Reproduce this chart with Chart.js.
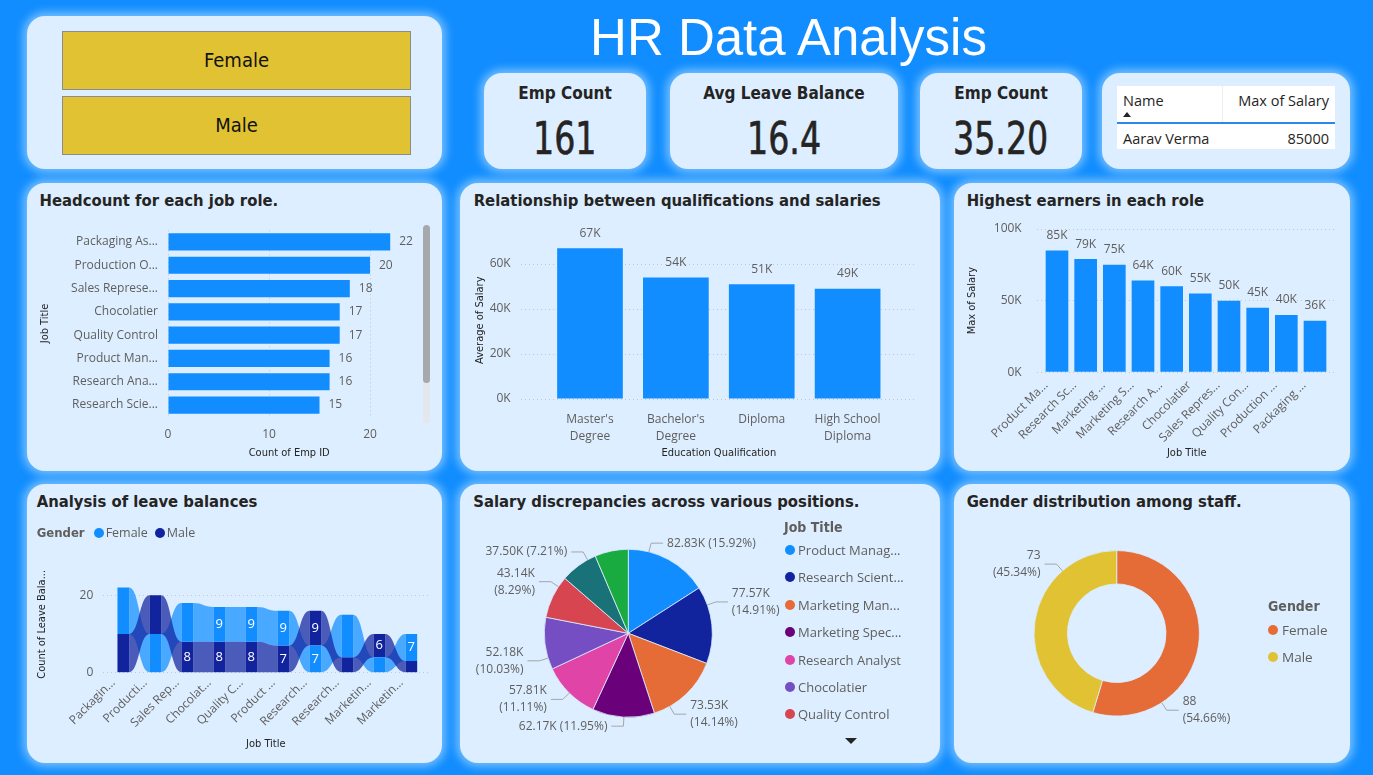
<!DOCTYPE html>
<html>
<head>
<meta charset="utf-8">
<title>HR Data Analysis</title>
<script src="https://cdn.jsdelivr.net/npm/chart.js@4.4.1/dist/chart.umd.min.js"></script>
<style>
  html, body { margin:0; padding:0; }
  body { width:1373px; height:775px; background:#118DFF; position:relative; overflow:hidden;
         font-family:'Open Sans','Noto Sans',sans-serif; color:#252423; }
  .card { position:absolute; background:#DCEEFF; border-radius:18px; box-shadow:0 0 9px 4px rgba(125,195,255,0.9); }
  .din { font-family:'DejaVu Sans Condensed','DejaVu Sans',sans-serif; font-stretch:condensed; }
  .ttl { position:absolute; font-weight:bold; font-size:16.5px; line-height:16.5px; color:#252423; white-space:nowrap; }
  canvas { position:absolute; }
  .kpiLabel { position:absolute; left:0; right:0; text-align:center; font-weight:bold; font-size:17px; line-height:17px; color:#252423; }
  .kpiValue { position:absolute; left:0; right:0; text-align:center; font-size:44px; line-height:44px; color:#252423; }
  .kpiValue span { display:inline-block; transform:scaleX(0.84); -webkit-text-stroke:0.6px #252423; }
  .slicerBtn { position:absolute; box-sizing:border-box; background:#E0C232; border:1px solid #8C8C8C;
               text-align:center; font-size:20px; line-height:57px; color:#111; }
  .lgRow { position:absolute; height:20px; white-space:nowrap; font-size:13px; color:#605E5C; display:flex; align-items:center; }
  .lgTitle { font-weight:bold; font-size:14px; color:#605E5C; }
  .dot { display:inline-block; width:10px; height:10px; border-radius:50%; }
  .tbl { position:absolute; font-size:14.5px; line-height:18px; color:#252423; white-space:nowrap; }
</style>
</head>
<body>

<!-- cards -->
<div class="card" style="left:27px;top:16px;width:415px;height:153px;"></div>
<div class="card" id="kpi1" style="left:484px;top:73px;width:162px;height:96px;"></div>
<div class="card" id="kpi2" style="left:670px;top:73px;width:228px;height:96px;"></div>
<div class="card" id="kpi3" style="left:920px;top:73px;width:162px;height:96px;"></div>
<div class="card" style="left:1102px;top:73px;width:248px;height:96px;"></div>
<div class="card" style="left:27px;top:183px;width:415px;height:288px;"></div>
<div class="card" style="left:460px;top:183px;width:480px;height:288px;"></div>
<div class="card" style="left:954px;top:183px;width:396px;height:288px;"></div>
<div class="card" style="left:27px;top:484px;width:415px;height:279px;"></div>
<div class="card" style="left:460px;top:484px;width:480px;height:279px;"></div>
<div class="card" style="left:954px;top:484px;width:396px;height:279px;"></div>

<!-- main title -->
<div style="position:absolute;left:388.5px;top:12px;width:800px;text-align:center;font-family:'Liberation Sans',Arial,sans-serif;font-size:51px;line-height:51px;color:#fff;">HR Data Analysis</div>

<!-- slicer -->
<div id="slicer"></div>

<!-- table -->
<div style="position:absolute;left:1117px;top:86px;width:218px;height:63px;background:#fff;"></div>
<div style="position:absolute;left:1222px;top:86px;width:1px;height:37px;background:#EDEDED;"></div>
<div class="tbl" style="left:1123px;top:92px;">Name</div>
<div class="tbl" style="right:44px;top:92px;">Max of Salary</div>
<div style="position:absolute;left:1123px;top:112px;width:0;height:0;border-left:4px solid transparent;border-right:4px solid transparent;border-bottom:5px solid #252423;"></div>
<div style="position:absolute;left:1117px;top:122px;width:218px;height:2px;background:#2B88E8;"></div>
<div class="tbl" id="tName" style="left:1123px;top:130px;"></div>
<div class="tbl" id="tSal" style="right:44px;top:130px;"></div>

<!-- chart titles -->
<div class="ttl din" style="left:39.5px;top:193.3px;">Headcount for each job role.</div>
<div class="ttl din" style="left:473.7px;top:193.3px;">Relationship between qualifications and salaries</div>
<div class="ttl din" style="left:966.7px;top:193.3px;">Highest earners in each role</div>
<div class="ttl din" style="left:36.7px;top:493.8px;">Analysis of leave balances</div>
<div class="ttl din" style="left:473.3px;top:493.8px;">Salary discrepancies across various positions.</div>
<div class="ttl din" style="left:966.7px;top:493.8px;">Gender distribution among staff.</div>

<!-- canvases -->
<canvas id="cHead" width="415" height="288" style="left:27px;top:183px;"></canvas>
<canvas id="cQual" width="480" height="288" style="left:460px;top:183px;"></canvas>
<canvas id="cEarn" width="396" height="288" style="left:954px;top:183px;"></canvas>
<canvas id="cLeave" width="415" height="279" style="left:27px;top:484px;"></canvas>
<canvas id="cPie" width="480" height="279" style="left:460px;top:484px;"></canvas>
<canvas id="cDonut" width="396" height="279" style="left:954px;top:484px;"></canvas>

<!-- headcount scrollbar -->
<div style="position:absolute;left:423px;top:225px;width:7px;height:198px;border-radius:4px;background:#E4E7EB;"></div>
<div style="position:absolute;left:423px;top:225px;width:7px;height:158px;border-radius:4px;background:#A6A8AB;"></div>

<!-- legends -->
<div id="leaveLegend"></div>
<div id="pieLegend"></div>
<div id="donutLegend"></div>
<div style="position:absolute;left:845px;top:738px;width:0;height:0;border-left:6px solid transparent;border-right:6px solid transparent;border-top:6px solid #252423;"></div>

<script>
// ---------------- data ----------------
const headcountRoles = ['Packaging As...', 'Production O...', 'Sales Represe...', 'Chocolatier', 'Quality Control', 'Product Man...', 'Research Ana...', 'Research Scie...'];
const headcountValues = [22, 20, 18, 17, 17, 16, 16, 15];
const headcountTicks = [0, 10, 20];

const qualificationLabels = [["Master's", "Degree"], ["Bachelor's", "Degree"], ["Diploma"], ["High School", "Diploma"]];
const qualificationAvgSalary = [67000, 54000, 51000, 49000];
const qualificationTicks = [0, 20000, 40000, 60000];

const earnerRoles = ['Product Ma...', 'Research Sc...', 'Marketing ...', 'Marketing S...', 'Research A...', 'Chocolatier', 'Sales Repres...', 'Quality Con...', 'Production ...', 'Packaging ...'];
const earnerMaxSalary = [85000, 79000, 75000, 64000, 60000, 55000, 50000, 45000, 40000, 36000];
const earnerTicks = [0, 50000, 100000];

const leaveRoles = ['Packagin...', 'Producti...', 'Sales Rep...', 'Chocolat...', 'Quality C...', 'Product ...', 'Research...', 'Research...', 'Marketin...', 'Marketin...'];
const leaveFemale = [12, 10, 10, 9, 9, 9, 7, 11, 4, 7];
const leaveMale = [10, 10, 8, 8, 8, 7, 9, 4, 6, 3];
const leaveFemaleLabelShown = [false, false, false, true, true, true, true, false, false, true];
const leaveMaleLabelShown = [false, false, true, true, true, true, true, false, true, false];
const leaveTicks = [0, 20];

const salaryRoles = ['Product Manager', 'Research Scientist', 'Marketing Manager', 'Marketing Specialist', 'Research Analyst', 'Chocolatier', 'Quality Control', 'Production Operator', 'Packaging Assistant'];
const salaryAvgK = [82.83, 77.57, 73.53, 62.17, 57.81, 52.18, 43.14, 37.50, 33.45];
const salaryLegendShown = ['Product Manag...', 'Research Scient...', 'Marketing Man...', 'Marketing Spec...', 'Research Analyst', 'Chocolatier', 'Quality Control'];

const genderLabels = ['Female', 'Male'];
const genderCounts = [88, 73];

const kpiEmpCount = 161;
const kpiAvgLeaveBalance = 16.4;
const kpiEmpCountB = 35.20;
const topEarnerName = 'Aarav Verma';
const topEarnerSalary = 85000;

// ---------------- styles ----------------
const BLUE = '#118DFF', NAVY = '#12239E', ORANGE = '#E66C37', YELLOW = '#E0C232';
const GRAY = '#605E5C', DARK = '#252423', GRID = '#C8C6C4';
const PIE_COLORS = ['#118DFF', '#12239E', '#E66C37', '#6B007B', '#E044A7', '#744EC2', '#D64550', '#197278', '#1AAB40'];
const GENDER_COLORS = [ORANGE, YELLOW];
const LEAVE_COLORS = [BLUE, NAVY];
const LEAVE_RIBBON = ['rgba(17,141,255,0.72)', 'rgba(18,35,158,0.72)'];
const TICK_FONT = { family: "'Open Sans','Noto Sans',sans-serif", size: 12 };
const TITLE_FONT = { family: "'DejaVu Sans Condensed','DejaVu Sans',sans-serif", size: 11 };
const LABEL_FONT = "12px 'Open Sans','Noto Sans',sans-serif";

// ---------------- html parts ----------------
function kpi(id, label, value) {
  const c = document.getElementById(id);
  c.innerHTML = '<div class="kpiLabel din" style="top:12.1px">' + label + '</div>' +
                '<div class="kpiValue din" style="top:43.6px"><span>' + value + '</span></div>';
}
kpi('kpi1', 'Emp Count', String(kpiEmpCount));
kpi('kpi2', 'Avg Leave Balance', kpiAvgLeaveBalance.toFixed(1));
kpi('kpi3', 'Emp Count', kpiEmpCountB.toFixed(2));
document.getElementById('tName').textContent = topEarnerName;
document.getElementById('tSal').textContent = String(topEarnerSalary);

(function () {
  const s = document.getElementById('slicer');
  genderLabels.forEach((g, i) => {
    const d = document.createElement('div');
    d.className = 'slicerBtn din';
    d.style.left = '62px'; d.style.top = (31 + i * 64.5) + 'px';
    d.style.width = '349px'; d.style.height = '59px';
    d.textContent = g;
    s.appendChild(d);
  });
})();

(function () {
  // leave legend (inline)
  const L = document.getElementById('leaveLegend');
  let html = '<div class="lgRow" style="left:36.7px;top:522.5px;font-size:12.5px;">' +
    '<span class="din" style="font-weight:bold;font-size:13px;margin-right:9px;">Gender</span>';
  genderLabels.forEach((g, i) => {
    html += '<span class="dot" style="background:' + LEAVE_COLORS[i] + ';margin-right:2px;"></span>' +
            '<span style="margin-right:7px;">' + g + '</span>';
  });
  L.innerHTML = html + '</div>';

  // pie legend
  const P = document.getElementById('pieLegend');
  let ph = '<div class="lgRow lgTitle din" style="left:784px;top:517.3px;">Job Title</div>';
  salaryLegendShown.forEach((t, i) => {
    ph += '<div class="lgRow" style="left:785px;top:' + (540 + i * 27.4) + 'px;">' +
          '<span class="dot" style="background:' + PIE_COLORS[i] + ';margin-right:3px;"></span>' + t + '</div>';
  });
  P.innerHTML = ph;

  // donut legend
  const D = document.getElementById('donutLegend');
  let dh = '<div class="lgRow lgTitle din" style="left:1268px;top:596px;">Gender</div>';
  genderLabels.forEach((g, i) => {
    dh += '<div class="lgRow" style="left:1268px;top:' + (620 + i * 27.3) + 'px;font-size:13.5px;">' +
          '<span class="dot" style="background:' + GENDER_COLORS[i] + ';margin-right:4px;"></span>' + g + '</div>';
  });
  D.innerHTML = dh;
})();

// ---------------- chart helpers ----------------
Chart.defaults.animation = false;
Chart.defaults.responsive = false;
Chart.defaults.maintainAspectRatio = false;
Chart.defaults.plugins.legend.display = false;
Chart.defaults.plugins.tooltip.enabled = false;
Chart.defaults.font.family = "'Open Sans','Noto Sans',sans-serif";
Chart.defaults.font.size = 12;
Chart.defaults.color = GRAY;

const fixWidth = w => s => { s.width = w; };
const fixHeight = h => s => { s.height = h; };
const setTicks = vals => s => { s.ticks = vals.map(v => ({ value: v })); };
const kFmt = v => Math.round(v / 1000) + 'K';
const el = id => document.getElementById(id);

function barValueLabels(fmt, offset) {
  return {
    id: 'barValueLabels',
    afterDatasetsDraw(chart) {
      const ctx = chart.ctx;
      ctx.save();
      ctx.font = LABEL_FONT; ctx.fillStyle = GRAY; ctx.textBaseline = 'middle';
      const horizontal = chart.options.indexAxis === 'y';
      const meta = chart.getDatasetMeta(0);
      const ds = chart.data.datasets[0];
      meta.data.forEach((bar, i) => {
        const raw = ds.data[i];
        const v = (raw !== null && typeof raw === 'object') ? raw.y : raw;
        const p = bar.getProps(['x', 'y'], true);
        if (horizontal) { ctx.textAlign = 'left'; ctx.fillText(fmt(v), p.x + offset, p.y); }
        else { ctx.textAlign = 'center'; ctx.fillText(fmt(v), p.x, p.y - offset); }
      });
      ctx.restore();
    }
  };
}

function ribbonPlugin(colors) {
  return {
    id: 'ribbons',
    beforeDatasetsDraw(chart) {
      const ctx = chart.ctx;
      chart.data.datasets.forEach((ds, di) => {
        const bars = chart.getDatasetMeta(di).data;
        ctx.save();
        ctx.fillStyle = colors[di];
        for (let i = 0; i < bars.length - 1; i++) {
          const a = bars[i].getProps(['x', 'y', 'base', 'width'], true);
          const b = bars[i + 1].getProps(['x', 'y', 'base', 'width'], true);
          const x1 = a.x + a.width / 2, x2 = b.x - b.width / 2, mx = (x1 + x2) / 2;
          const t1 = Math.min(a.y, a.base), b1 = Math.max(a.y, a.base);
          const t2 = Math.min(b.y, b.base), b2 = Math.max(b.y, b.base);
          ctx.beginPath();
          ctx.moveTo(x1, t1);
          ctx.bezierCurveTo(mx, t1, mx, t2, x2, t2);
          ctx.lineTo(x2, b2);
          ctx.bezierCurveTo(mx, b2, mx, b1, x1, b1);
          ctx.closePath();
          ctx.fill();
        }
        ctx.restore();
      });
    }
  };
}

function segmentLabels(values, shown) {
  return {
    id: 'segmentLabels',
    afterDatasetsDraw(chart) {
      const ctx = chart.ctx;
      ctx.save();
      ctx.font = "13px 'Open Sans','Noto Sans',sans-serif"; ctx.fillStyle = '#FFFFFF';
      ctx.textAlign = 'center'; ctx.textBaseline = 'middle';
      chart.data.datasets.forEach((ds, di) => {
        chart.getDatasetMeta(di).data.forEach((bar, i) => {
          if (!shown[di][i]) return;
          const p = bar.getProps(['x', 'y', 'base'], true);
          ctx.fillText(String(values[di][i]), p.x, (p.y + p.base) / 2);
        });
      });
      ctx.restore();
    }
  };
}

function outsideLabels(cfg) {
  return {
    id: 'outsideLabels',
    afterDatasetsDraw(chart) {
      const ctx = chart.ctx;
      const ds = chart.data.datasets[0];
      const total = ds.data.reduce((a, b) => a + b, 0);
      ctx.save();
      ctx.font = LABEL_FONT; ctx.textBaseline = 'middle';
      chart.getDatasetMeta(0).data.forEach((arc, i) => {
        const deg = cfg.anchors[i];
        if (deg === null || deg === undefined) return;
        const p = arc.getProps(['x', 'y', 'outerRadius'], true);
        const a = deg * Math.PI / 180, sx = Math.sin(a), sy = -Math.cos(a);
        const x0 = p.x + p.outerRadius * sx, y0 = p.y + p.outerRadius * sy;
        const x1 = p.x + (p.outerRadius + 9) * sx, y1 = p.y + (p.outerRadius + 9) * sy;
        const right = sx >= 0, dir = right ? 1 : -1;
        const x2 = x1 + dir * 12;
        ctx.strokeStyle = '#A6A6A6'; ctx.lineWidth = 1;
        ctx.beginPath(); ctx.moveTo(x0, y0); ctx.lineTo(x1, y1); ctx.lineTo(x2, y1); ctx.stroke();
        const vt = cfg.format(ds.data[i]);
        const pt = '(' + (ds.data[i] / total * 100).toFixed(2) + '%)';
        const tx = x2 + dir * 4;
        ctx.fillStyle = GRAY;
        ctx.textAlign = right ? 'left' : 'right';
        const one = vt + ' ' + pt;
        const w = ctx.measureText(one).width;
        const fits = right ? (tx + w <= cfg.maxX) : (tx - w >= cfg.minX);
        if (fits) ctx.fillText(one, tx, y1);
        else { ctx.fillText(vt, tx, y1 - 8.5); ctx.fillText(pt, tx, y1 + 8.5); }
      });
      ctx.restore();
    }
  };
}

const yValueAxis = (max, ticks, width, pad, titleText, titlePad, fmt) => ({
  min: 0, max: max, afterBuildTicks: setTicks(ticks), afterFit: fixWidth(width),
  grid: { color: GRID, drawTicks: false }, border: { display: false, dash: [1, 3] },
  ticks: { padding: pad, font: TICK_FONT, color: GRAY, callback: fmt },
  title: { display: true, text: titleText, font: TITLE_FONT, color: DARK, padding: { top: titlePad, bottom: 0 } }
});

// ---------------- 1. Headcount ----------------
new Chart(el('cHead'), {
  type: 'bar',
  data: { labels: headcountRoles, datasets: [{ data: headcountValues, backgroundColor: BLUE, barPercentage: 0.74, categoryPercentage: 1 }] },
  plugins: [barValueLabels(v => String(v), 9)],
  options: {
    indexAxis: 'y',
    layout: { padding: { left: 0, top: 47.3, right: 31.6, bottom: 11.3 } },
    scales: {
      x: { min: 0, max: 24, afterBuildTicks: setTicks(headcountTicks), afterFit: fixHeight(43),
           grid: { color: GRID, drawTicks: false }, border: { display: false, dash: [1, 3] },
           ticks: { padding: 11.1, font: TICK_FONT, color: GRAY },
           title: { display: true, text: 'Count of Emp ID', font: TITLE_FONT, color: DARK, padding: 0 } },
      y: { afterFit: fixWidth(141), grid: { display: false, drawTicks: false }, border: { display: false },
           ticks: { padding: 10, font: TICK_FONT, color: GRAY, autoSkip: false },
           title: { display: true, text: 'Job Title', font: TITLE_FONT, color: DARK, padding: { top: 11.4, bottom: 0 } } }
    }
  }
});

// ---------------- 2. Qualifications ----------------
new Chart(el('cQual'), {
  type: 'bar',
  data: { datasets: [{ data: qualificationAvgSalary.map((v, i) => ({ x: i, y: v })), backgroundColor: BLUE, barPercentage: 0.765, categoryPercentage: 1 }] },
  plugins: [barValueLabels(kFmt, 15)],
  options: {
    layout: { padding: { left: 0, top: 58.5, right: 23.7, bottom: 11.4 } },
    scales: {
      x: { type: 'linear', min: -0.8, max: 3.8, offset: false,
           afterBuildTicks: setTicks(qualificationLabels.map((_, i) => i)), afterFit: fixHeight(60.6),
           grid: { display: false, drawTicks: false }, border: { display: false },
           ticks: { padding: 12.6, font: Object.assign({}, TICK_FONT, { lineHeight: 1.4 }), color: GRAY, maxRotation: 0, autoSkip: false,
                    callback: (v, i) => qualificationLabels[i] },
           title: { display: true, text: 'Education Qualification', font: TITLE_FONT, color: DARK, padding: 0 } },
      y: yValueAxis(70000, qualificationTicks, 61.3, 10.6, 'Average of Salary', 13.1, kFmt)
    }
  }
});

// ---------------- 3. Highest earners ----------------
new Chart(el('cEarn'), {
  type: 'bar',
  data: { datasets: [{ data: earnerMaxSalary.map((v, i) => ({ x: i, y: v })), backgroundColor: BLUE, barPercentage: 0.79, categoryPercentage: 1 }] },
  plugins: [barValueLabels(kFmt, 15)],
  options: {
    layout: { padding: { left: 0, top: 46, right: 13.3, bottom: 11.4 } },
    scales: {
      x: { type: 'linear', min: -0.708, max: 9.757, offset: false,
           afterBuildTicks: setTicks(earnerRoles.map((_, i) => i)), afterFit: fixHeight(87.3),
           grid: { display: false, drawTicks: false }, border: { display: false },
           ticks: { padding: 6, labelOffset: -11, font: TICK_FONT, color: GRAY, minRotation: 45, maxRotation: 45, autoSkip: false,
                    callback: (v, i) => earnerRoles[i] },
           title: { display: true, text: 'Job Title', font: TITLE_FONT, color: DARK, padding: 0 } },
      y: yValueAxis(100000, earnerTicks, 82.7, 15, 'Max of Salary', 11.7, kFmt)
    }
  }
});

// ---------------- 4. Leave balances (ribbon) ----------------
const femaleRanges = leaveFemale.map((f, i) => (f > leaveMale[i] ? [leaveMale[i], leaveMale[i] + f] : [0, f]));
const maleRanges = leaveMale.map((m, i) => (leaveFemale[i] > m ? [0, m] : [leaveFemale[i], leaveFemale[i] + m]));
new Chart(el('cLeave'), {
  type: 'bar',
  data: {
    datasets: [
      { label: genderLabels[0], data: femaleRanges.map((r, i) => ({ x: i, y: r })), backgroundColor: LEAVE_COLORS[0], grouped: false, barPercentage: 0.365, categoryPercentage: 1 },
      { label: genderLabels[1], data: maleRanges.map((r, i) => ({ x: i, y: r })), backgroundColor: LEAVE_COLORS[1], grouped: false, barPercentage: 0.365, categoryPercentage: 1 }
    ]
  },
  plugins: [ribbonPlugin(LEAVE_RIBBON), segmentLabels([leaveFemale, leaveMale], [leaveFemaleLabelShown, leaveMaleLabelShown])],
  options: {
    layout: { padding: { left: 0, top: 92, right: 13.7, bottom: 12.1 } },
    scales: {
      x: { type: 'linear', min: -0.625, max: 9.53, offset: false,
           afterBuildTicks: setTicks(leaveRoles.map((_, i) => i)), afterFit: fixHeight(78.2),
           grid: { display: false, drawTicks: false }, border: { display: false },
           ticks: { padding: 3, labelOffset: -10, font: TICK_FONT, color: GRAY, minRotation: 45, maxRotation: 45, autoSkip: false,
                    callback: (v, i) => leaveRoles[i] },
           title: { display: true, text: 'Job Title', font: TITLE_FONT, color: DARK, padding: 0 } },
      y: yValueAxis(25, leaveTicks, 76.3, 10, 'Count of Leave Bala...', 8.7, v => String(v))
    }
  }
});

// ---------------- 5. Salary pie ----------------
new Chart(el('cPie'), {
  type: 'pie',
  data: { labels: salaryRoles, datasets: [{ data: salaryAvgK, backgroundColor: PIE_COLORS, borderColor: '#DCEEFF', borderWidth: 0.8 }] },
  plugins: [outsideLabels({ anchors: [14.2, 70.3, 150.4, 183, 224.7, 252.8, 303.7, 331, null], minX: 10, maxX: 308,
                            format: v => v.toFixed(2) + 'K' })],
  options: {
    radius: 84,
    layout: { padding: { left: 0, top: 20, right: 143.4, bottom: 0.4 } }
  }
});

// ---------------- 6. Gender donut ----------------
new Chart(el('cDonut'), {
  type: 'doughnut',
  data: { labels: genderLabels, datasets: [{ data: genderCounts, backgroundColor: GENDER_COLORS, borderColor: '#DCEEFF', borderWidth: 0.8 }] },
  plugins: [outsideLabels({ anchors: [147, 319], minX: 45, maxX: 250, format: v => String(v) })],
  options: {
    radius: 82.7,
    cutout: '59.6%',
    layout: { padding: { left: 0, top: 20, right: 70.6, bottom: 0.4 } }
  }
});
</script>
</body>
</html>
